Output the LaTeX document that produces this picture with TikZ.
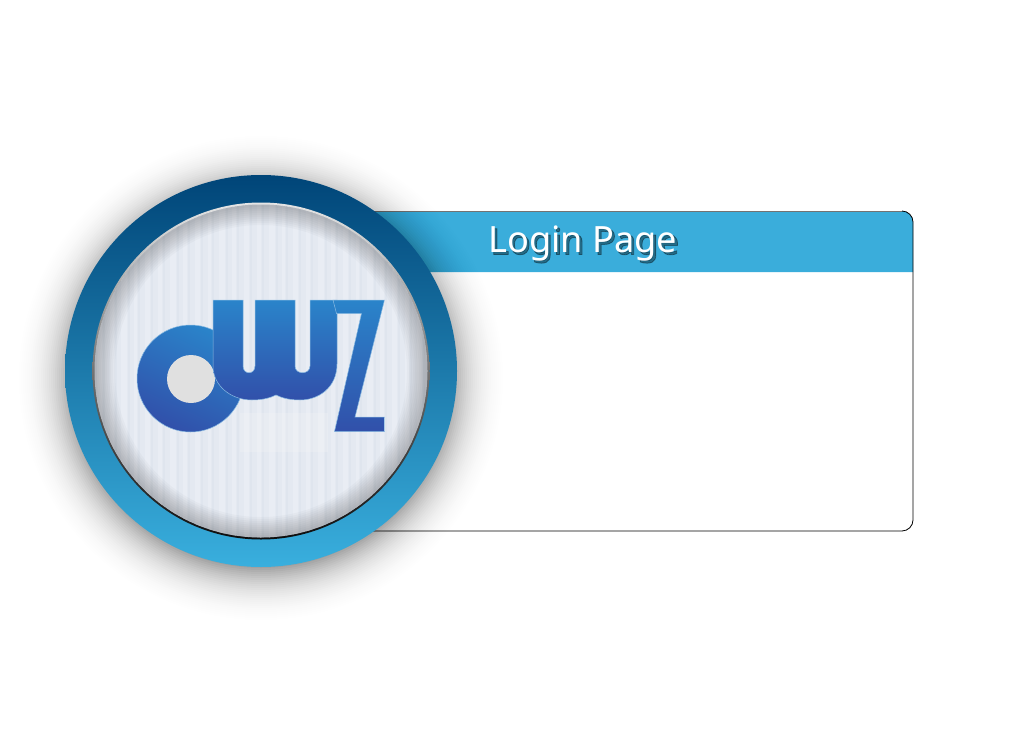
\documentclass[tikz,border=0pt]{standalone}
\usepackage{fontspec}
\setmainfont{Noto Sans}
\usetikzlibrary{calc}
\definecolor{barblue}{HTML}{3AADDB}
\definecolor{ringtop}{HTML}{004578}
\definecolor{ringbot}{HTML}{39AFDE}
\definecolor{logotop}{HTML}{2A84CA}
\definecolor{logobot}{HTML}{3150AA}
\definecolor{disc}{HTML}{E4E9F1}
\definecolor{stripelight}{HTML}{F0F3F8}
\definecolor{stripedark}{HTML}{D9E0EA}
\tikzset{
  logoshape/.style={top color=logotop,bottom color=logobot,draw=logotop!55!white,line width=.5pt},
  titletext/.style={font=\fontsize{36.2}{36.2}\selectfont,anchor=base west,inner sep=0pt}
}
\newfontfamily\boldish[FakeBold=2]{Noto Sans}
\begin{document}
\begin{tikzpicture}[x=1pt,y=-1pt]
\useasboundingbox (0,0) rectangle (1024,733);
\fill[white] (0,0) rectangle (1024,733);
% panel
\fill[barblue] (360,211) -- (902,211) .. controls (908,211) and (913,216) .. (913,222) -- (913,272) -- (360,272) -- cycle;
\draw[black!55,line width=.8pt] (360,211) -- (902,211);
\draw[black,line width=.8pt] (902,211) .. controls (908,211) and (913,216) .. (913,222) -- (913,520) .. controls (913,526) and (908,531) .. (902,531) -- (360,531);
% shadow
\foreach \r in {190,192,...,262}{
  \pgfmathsetmacro\op{.03*(1-(\r-190)/72)^2}
  \fill[black,opacity=\op] (261,378) circle[radius=\r];
}
% title
\node[titletext,text=black,opacity=.38,font=\boldish\fontsize{36.2}{36.2}\selectfont] (titleshadow) at (490,254.5) {Login Page};
\node[titletext,text=white] (title) at (488,252) {Login Page};
% ring
\shade[top color=ringtop,bottom color=ringbot] (261,371) circle[radius=196];
\shade[shading angle=135,top color=black!10,bottom color=black!95,middle color=black!55] (261,371) circle[radius=168.5];
\fill[disc] (261,371) circle[radius=166.5];
\begin{scope}
\clip (261,371) circle[radius=166.5];
\foreach \x/\w in {97/5,110/4,121/6,134/3,145/5,158/4,170/6,183/4,195/5,208/3,219/6,232/4,244/5,257/4,269/6,282/3,293/5,306/4,318/6,331/4,343/5,356/3,367/6,380/4,392/5,405/4,417/5}{
  \fill[stripelight,opacity=.45] (\x,200) rectangle (\x+\w,545);
  \fill[stripedark,opacity=.4] (\x+\w+1,200) rectangle (\x+\w+3,545);
}
\end{scope}
\foreach \r in {146,148,...,164}{
  \pgfmathsetmacro\rm{(\r+166.5)/2}
  \pgfmathsetmacro\lw{166.5-\r}
  \draw[black,opacity=.025,line width=\lw pt] (261,371) circle[radius=\rm];
}
% logo
\fill[black!3,opacity=.25] (240,413) rectangle (328,452);
\path[logoshape,shading angle=-25,shade] (190.5,378.5) circle[radius=53.5];
\fill[black!12] (191,379) circle[radius=24];
\path[logoshape,shade] (213,300) -- (243,300) -- (243,366)
  .. controls (243,375) and (255,375) .. (255,366) -- (255,300) -- (295,300) -- (295,366)
  .. controls (295,375) and (310,375) .. (310,366) -- (310,300) -- (337,300) -- (337,364)
  .. controls (337,388) and (318,400) .. (300,400)
  .. controls (290,400) and (282,398) .. (276,395)
  .. controls (270,398) and (262,400) .. (252,400)
  .. controls (230,400) and (213,385) .. (213,366) -- cycle;
\path[logoshape,shade] (333,300) -- (384.5,300) -- (355,417) -- (384.5,417) -- (384.5,431.5) -- (334.5,431.5) -- (361.5,313.5) -- (336.5,313.5) -- cycle;
\end{tikzpicture}
\end{document}
